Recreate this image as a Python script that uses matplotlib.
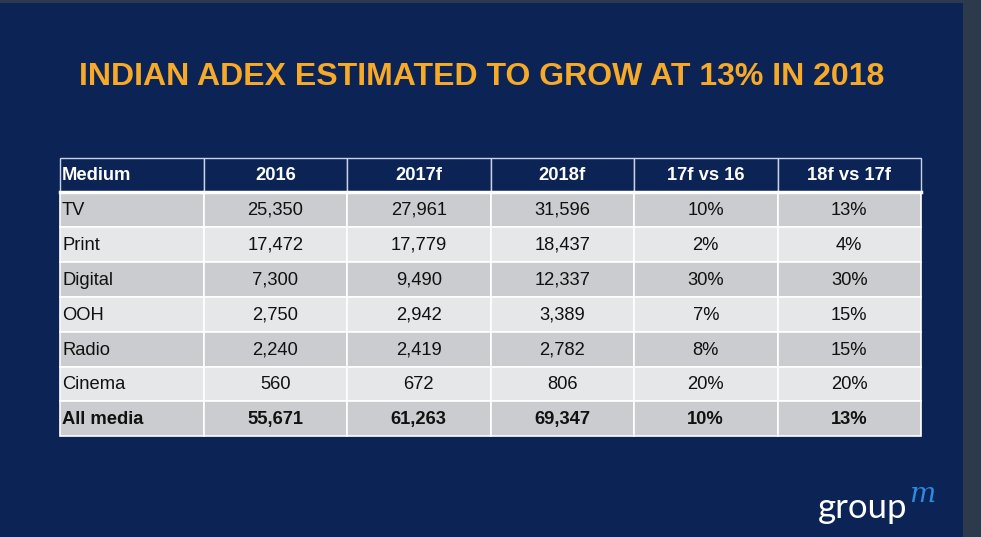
import matplotlib.pyplot as plt
from matplotlib.patches import Rectangle

plt.rcParams['font.family'] = ['Liberation Sans', 'DejaVu Sans']

title = "INDIAN ADEX ESTIMATED TO GROW AT 13% IN 2018"
columns = ["Medium", "2016", "2017f", "2018f", "17f vs 16", "18f vs 17f"]
media = ["TV", "Print", "Digital", "OOH", "Radio", "Cinema", "All media"]
adex_2016 = [25350, 17472, 7300, 2750, 2240, 560, 55671]
adex_2017 = [27961, 17779, 9490, 2942, 2419, 672, 61263]
adex_2018 = [31596, 18437, 12337, 3389, 2782, 806, 69347]
growth_17 = [10, 2, 30, 7, 8, 20, 10]
growth_18 = [13, 4, 30, 15, 15, 20, 13]

navy = "#0b2455"
dark_row = "#cbccd0"
light_row = "#e6e7e9"

fig = plt.figure(figsize=(9.81, 5.37), dpi=100)
fig.patch.set_facecolor("#2c3a4b")
ax = fig.add_axes([0, 0, 1, 1])
ax.set_xlim(0, 981)
ax.set_ylim(537, 0)
ax.axis("off")

# slide background
ax.add_patch(Rectangle((0, 3), 963, 534, facecolor=navy, edgecolor="none"))

ax.text(482, 77, title, color="#f7a928", fontsize=23, fontweight="bold",
        ha="center", va="center")

# table geometry
x0, x1 = 60, 921
top, head_h, row_h = 158, 34, 34.9
col_w = (x1 - x0) / len(columns)
fs = 13.2

# header
for j, name in enumerate(columns):
    cx = x0 + j * col_w
    ax.add_patch(Rectangle((cx, top), col_w, head_h, facecolor=navy,
                           edgecolor="#c9d3e6", linewidth=1))
    if j == 0:
        ax.text(cx + 2, top + head_h / 2 + 1, name, color="white", fontsize=fs,
                fontweight="bold", ha="left", va="center")
    else:
        ax.text(cx + col_w / 2, top + head_h / 2 + 1, name, color="white",
                fontsize=fs, fontweight="bold", ha="center", va="center")

# body
for i, m in enumerate(media):
    y = top + head_h + i * row_h
    bold = "bold" if m == "All media" else "normal"
    vals = [m, f"{adex_2016[i]:,}", f"{adex_2017[i]:,}", f"{adex_2018[i]:,}",
            f"{growth_17[i]}%", f"{growth_18[i]}%"]
    fc = dark_row if i % 2 == 0 else light_row
    for j, v in enumerate(vals):
        cx = x0 + j * col_w
        ax.add_patch(Rectangle((cx, y), col_w, row_h, facecolor=fc,
                               edgecolor="white", linewidth=1.2))
        if j == 0:
            ax.text(cx + 2, y + row_h / 2 + 1, v, color="#111111", fontsize=fs,
                    fontweight=bold, ha="left", va="center")
        else:
            ax.text(cx + col_w / 2, y + row_h / 2 + 1, v, color="#111111",
                    fontsize=fs, fontweight=bold, ha="center", va="center")

# white line under header
ax.plot([x0, x1], [top + head_h, top + head_h], color="white", linewidth=2.5)

# logo
ax.text(818, 508, "group", color="white", fontsize=25, ha="left", va="center",
        family="Lato")
ax.text(909, 495, "m", color="#2a8be0", fontsize=20, style="italic",
        ha="left", va="center", family="DejaVu Serif")

fig.savefig("out.png", dpi=100, facecolor=fig.get_facecolor())
